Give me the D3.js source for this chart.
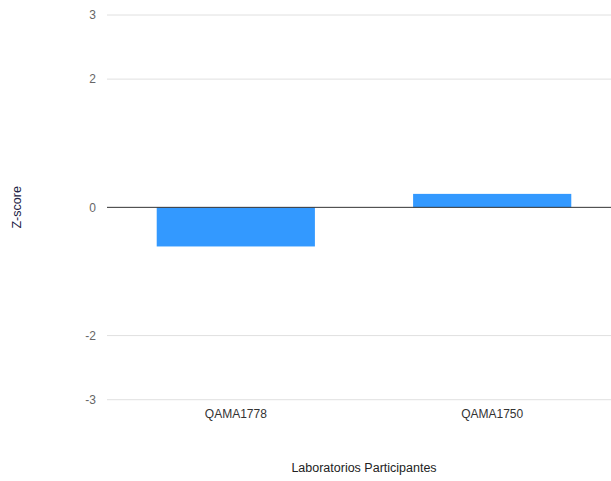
<!DOCTYPE html>
<html><head><meta charset="utf-8">
<script src="https://cdn.jsdelivr.net/npm/d3@7"></script>
<style>body{margin:0;background:#fff}svg{display:block}text{font-family:"Liberation Sans",Arial,sans-serif}</style>
</head><body>
<svg id="c" width="611" height="481"></svg>
<script>
const categories = ["QAMA1778", "QAMA1750"];
const zscores = [-0.61, 0.21];
const yTicks = [3, 2, 0, -2, -3];
const yTitle = "Z-score";
const xTitle = "Laboratorios Participantes";

const svg = d3.select("#c");
const pLeft = 108, pRight = 620, pTop = 15, pBottom = 399.7;
const x = d3.scaleBand().domain(categories).range([pLeft, pRight]).paddingInner(0.383).paddingOuter(0.19);
const y = d3.scaleLinear().domain([-3, 3]).range([pBottom, pTop]);

const yAxis = svg.append("g").attr("transform", `translate(${pLeft},0)`)
  .call(d3.axisLeft(y).tickValues(yTicks).tickSize(0).tickPadding(12).tickFormat(d => String(d)));
yAxis.select(".domain").remove();
yAxis.selectAll("text").attr("fill", "#666").attr("font-size", 12);

svg.append("g").selectAll("line").data(yTicks.filter(d => d !== 0)).join("line")
  .attr("x1", pLeft - 1).attr("x2", 611).attr("y1", d => y(d)).attr("y2", d => y(d))
  .attr("stroke", "#e0e0e0").attr("stroke-width", 1);

svg.append("g").selectAll("rect").data(categories).join("rect")
  .attr("x", d => x(d))
  .attr("width", x.bandwidth())
  .attr("y", (d, i) => y(Math.max(0, zscores[i])))
  .attr("height", (d, i) => Math.abs(y(zscores[i]) - y(0)))
  .attr("fill", "#3399ff");

svg.append("line").attr("x1", pLeft - 1).attr("x2", 611).attr("y1", y(0)).attr("y2", y(0))
  .attr("stroke", "#333").attr("stroke-width", 1);

const xAxis = svg.append("g").attr("transform", `translate(0,${pBottom})`)
  .call(d3.axisBottom(x).tickSize(0).tickPadding(10));
xAxis.select(".domain").remove();
xAxis.selectAll("text").attr("fill", "#333").attr("font-size", 12);

svg.append("text").attr("x", (pLeft + pRight) / 2).attr("y", 472).attr("text-anchor", "middle")
  .attr("font-size", 12.5).attr("fill", "#222").text(xTitle);

svg.append("text").attr("transform", `translate(21,${y(0)}) rotate(-90)`).attr("text-anchor", "middle")
  .attr("font-size", 12.5).attr("fill", "#222244").text(yTitle);
</script>
</body></html>
